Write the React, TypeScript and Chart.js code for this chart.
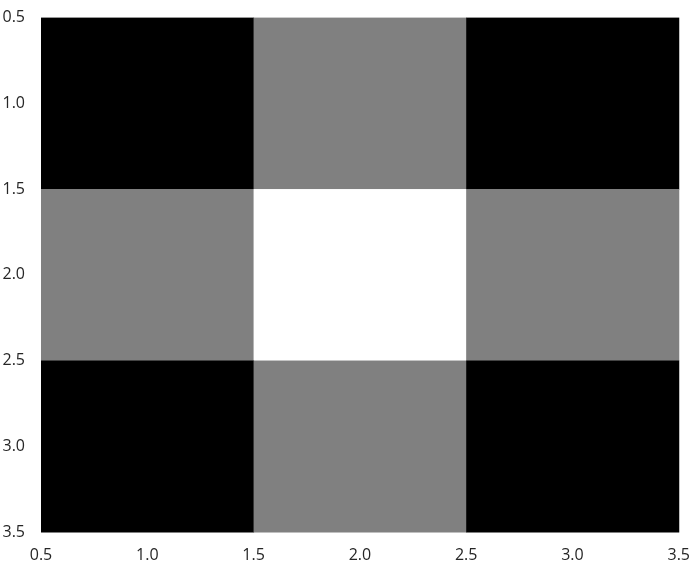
import React, { useEffect, useRef } from "react";
import { Chart, registerables } from "chart.js";
Chart.register(...registerables);

const rows = [1, 2, 3];
const cols = [1, 2, 3];
const values = [
  [0, 0.5, 0],
  [0.5, 1, 0.5],
  [0, 0.5, 0],
];
const ticks = [0.5, 1, 1.5, 2, 2.5, 3, 3.5];

const gray = (v: number) => {
  const c = Math.round(v * 255 === 127.5 ? 128 : v * 255);
  return `rgb(${c},${c},${c})`;
};

const cellPlugin = {
  id: "cells",
  beforeDatasetsDraw(chart: any) {
    const { ctx, scales } = chart;
    const xs = scales.x, ys = scales.y;
    rows.forEach((r, i) => {
      cols.forEach((c, j) => {
        const x0 = xs.getPixelForValue(c - 0.5), x1 = xs.getPixelForValue(c + 0.5);
        const y0 = ys.getPixelForValue(r - 0.5), y1 = ys.getPixelForValue(r + 0.5);
        ctx.fillStyle = gray(values[i][j]);
        ctx.fillRect(Math.min(x0, x1), Math.min(y0, y1), Math.abs(x1 - x0) + 0.5, Math.abs(y1 - y0) + 0.5);
      });
    });
  },
};

export default function App() {
  const ref = useRef<HTMLCanvasElement>(null);
  useEffect(() => {
    const chart = new Chart(ref.current!, {
      type: "scatter",
      data: { datasets: [{ data: [], pointRadius: 0 }] },
      options: {
        animation: false,
        responsive: false,
        layout: { padding: { top: 11, right: 16 } },
        plugins: { legend: { display: false }, tooltip: { enabled: false } },
        scales: {
          x: {
            type: "linear", min: 0.5, max: 3.5,
            afterBuildTicks: (s: any) => { s.ticks = ticks.map((v) => ({ value: v })); },
            afterFit: (s: any) => { s.height = 36; },
            grid: { display: false },
            border: { display: false },
            ticks: { color: "#262626", font: { family: "Open Sans", size: 16 }, maxRotation: 0, autoSkip: false, padding: 6 },
          },
          y: {
            type: "linear", min: 0.5, max: 3.5, reverse: true,
            afterBuildTicks: (s: any) => { s.ticks = ticks.map((v) => ({ value: v })); },
            afterFit: (s: any) => { s.width = 41; },
            grid: { display: false },
            border: { display: false },
            ticks: { color: "#262626", font: { family: "Open Sans", size: 16 }, autoSkip: false, padding: 8 },
          },
        },
      },
      plugins: [cellPlugin],
    });
    return () => chart.destroy();
  }, []);
  return (
    <div style={{ position: "fixed", left: 0, top: 0, width: 696, height: 568, background: "#fff" }}>
      <canvas ref={ref} width={696} height={568} />
    </div>
  );
}
